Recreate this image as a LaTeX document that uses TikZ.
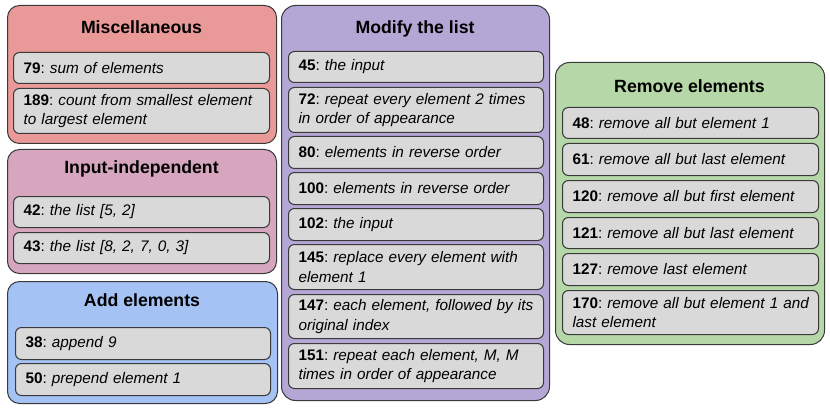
\documentclass[tikz,border=0pt]{standalone}
\usepackage{fontspec}
\setmainfont{Liberation Sans}
\definecolor{bordc}{HTML}{3A3A3A}
\definecolor{boxgray}{HTML}{D9D9D9}
\definecolor{miscc}{HTML}{EA9999}
\definecolor{inpc}{HTML}{D5A6BD}
\definecolor{addc}{HTML}{A4C2F4}
\definecolor{modc}{HTML}{B4A7D6}
\definecolor{remc}{HTML}{B6D7A8}
\newcommand\entry[2]{\mbox{\textbf{#1}: \textit{#2}}}
\newcommand\more[1]{\mbox{\textit{#1}}}
\tikzset{
  x=1pt, y=-1pt,
  outbox/.style={draw=bordc, line width=1pt, rounded corners=12pt, anchor=north west, inner sep=0pt},
  inbox/.style={draw=bordc, fill=boxgray, line width=1pt, rounded corners=6pt, anchor=north west,
    inner xsep=10pt, inner ysep=0pt, align=left, text width=236pt,
    font=\fontsize{15.3}{19.5}\selectfont\frenchspacing},
  ttl/.style={font=\fontsize{17.7}{21}\selectfont\bfseries, inner sep=0pt}
}
\begin{document}
\begin{tikzpicture}
\useasboundingbox (0,0) rectangle (830,409);
% Miscellaneous
\node[outbox, fill=miscc, minimum width=269pt, minimum height=138pt] (misc) at (7,5) {};
\node[ttl] (misct) at (141.5,27) {Miscellaneous};
\node[inbox, minimum height=31pt] (m79) at (13,52) {\entry{79}{sum of elements}};
\node[inbox, minimum height=45pt] (m189) at (13,88) {\entry{189}{count from smallest element}\\\more{to largest element}};
% Input-independent
\node[outbox, fill=inpc, minimum width=269pt, minimum height=124pt] (inp) at (7,149) {};
\node[ttl] (inpt) at (141.5,169) {Input-independent};
\node[inbox, minimum height=31pt] (i42) at (13,196) {\entry{42}{the list [5, 2]}};
\node[inbox, minimum height=31pt] (i43) at (13,232) {\entry{43}{the list [8, 2, 7, 0, 3]}};
% Add elements
\node[outbox, fill=addc, minimum width=270pt, minimum height=122pt] (add) at (7,281) {};
\node[ttl] (addt) at (142,300) {Add elements};
\node[inbox, minimum height=32pt, text width=235pt] (a38) at (15,327) {\entry{38}{append 9}};
\node[inbox, minimum height=32pt, text width=235pt] (a50) at (15,363) {\entry{50}{prepend element 1}};
% Modify the list
\node[outbox, fill=modc, minimum width=268pt, minimum height=395pt, rounded corners=14pt] (mod) at (281,5) {};
\node[ttl] (modt) at (415,29) {Modify the list};
\node[inbox, minimum height=31pt, text width=235pt] (d45) at (288,51) {\entry{45}{the input}};
\node[inbox, minimum height=45pt, text width=235pt] (d72) at (288,87) {\entry{72}{repeat every element 2 times}\\\more{in order of appearance}};
\node[inbox, minimum height=32pt, text width=235pt] (d80) at (288,136) {\entry{80}{elements in reverse order}};
\node[inbox, minimum height=32pt, text width=235pt] (d100) at (288,172) {\entry{100}{elements in reverse order}};
\node[inbox, minimum height=32pt, text width=235pt] (d102) at (288,208) {\entry{102}{the input}};
\node[inbox, minimum height=45pt, text width=235pt] (d145) at (288,244) {\entry{145}{replace every element with}\\\more{element 1}};
\node[inbox, minimum height=44pt, text width=235pt] (d147) at (288,294) {\entry{147}{each element, followed by its}\\\more{original index}};
\node[inbox, minimum height=45pt, text width=235pt] (d151) at (288,343) {\entry{151}{repeat each element, M, M}\\\more{times in order of appearance}};
% Remove elements
\node[outbox, fill=remc, minimum width=269pt, minimum height=282pt, rounded corners=14pt] (rem) at (555,62) {};
\node[ttl] (remt) at (689.5,86) {Remove elements};
\node[inbox, minimum height=31pt] (r48) at (562,107) {\entry{48}{remove all but element 1}};
\node[inbox, minimum height=32pt] (r61) at (562,143) {\entry{61}{remove all but last element}};
\node[inbox, minimum height=32pt] (r120) at (562,180) {\entry{120}{remove all but first element}};
\node[inbox, minimum height=31pt] (r121) at (562,217) {\entry{121}{remove all but last element}};
\node[inbox, minimum height=32pt] (r127) at (562,253) {\entry{127}{remove last element}};
\node[inbox, minimum height=44pt] (r170) at (562,290) {\entry{170}{remove all but element 1 and}\\\more{last element}};
\end{tikzpicture}
\end{document}
